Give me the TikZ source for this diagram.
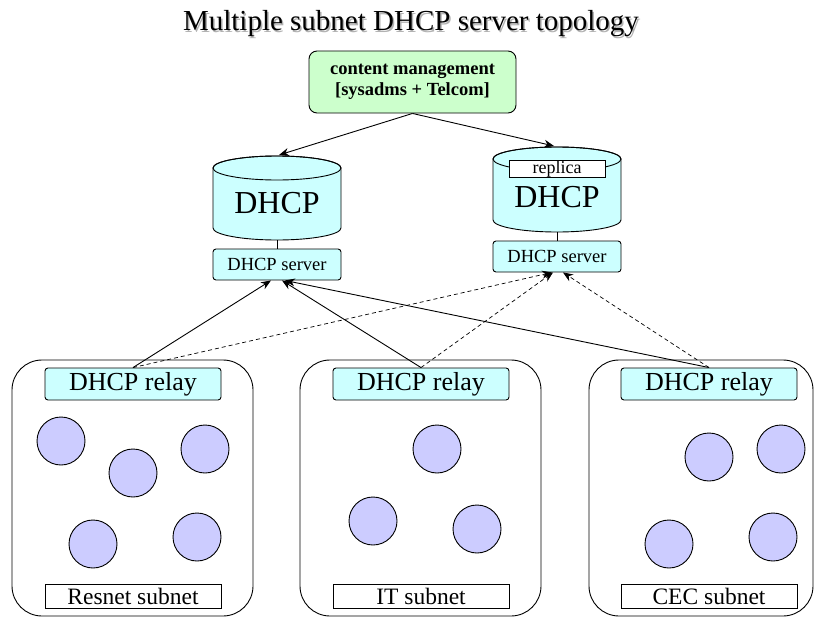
\documentclass[tikz,border=0pt]{standalone}
\usepackage{fontspec}
\setmainfont{Liberation Serif}
\usetikzlibrary{arrows.meta}

\definecolor{srvcyan}{HTML}{CCFFFF}
\definecolor{mgmtgreen}{HTML}{CCFFCC}
\definecolor{hostblue}{HTML}{CCCCFF}

\begin{document}
\begin{tikzpicture}[x=1pt,y=-1pt,
  every node/.style={inner sep=0pt},
  cyanbox/.style={draw,fill=srvcyan,rounded corners=3pt,line width=0.9pt},
  serverbox/.style={cyanbox,minimum width=128pt,minimum height=31pt,font=\fontsize{18.5}{20}\selectfont},
  relaybox/.style={cyanbox,minimum width=176pt,minimum height=32pt,font=\fontsize{26}{28}\selectfont},
  namebox/.style={draw,fill=white,line width=0.9pt,minimum width=176pt,minimum height=24pt,font=\fontsize{23.5}{25}\selectfont},
  subnetbox/.style={draw,rounded corners=30pt,line width=0.9pt,minimum width=241pt,minimum height=256pt},
  host/.style={circle,draw,fill=hostblue,line width=0.9pt,minimum size=48pt},
  dbtext/.style={font=\fontsize{32}{32}\selectfont},
  link/.style={-{Stealth[length=10pt,width=8pt]},line width=0.9pt},
  backup/.style={link,line width=0.7pt,dash pattern=on 4pt off 3pt}]

\useasboundingbox (0,0) rectangle (819,618);

% title
\node[anchor=base,text=black!30] (titleshadow) at (412.5,32.5) {\fontsize{29}{30}\selectfont Multiple subnet DHCP server topology};
\node[anchor=base] (title) at (411,31) {\fontsize{29}{30}\selectfont Multiple subnet DHCP server topology};

% content management
\node[draw,fill=mgmtgreen,rounded corners=8pt,line width=0.9pt,minimum width=207pt,minimum height=62pt,
  align=center,font=\bfseries\fontsize{18.5}{21}\selectfont] (mgmt) at (412.5,82)
  {content management\\{[}sysadms + Telcom{]}};

% primary database
\coordinate (dbAtop) at (279,155);
\coordinate (dbAbot) at (277,240);
\filldraw[fill=srvcyan,line width=0.9pt] (213,168) -- (213,228)
  arc[start angle=180,end angle=360,x radius=64pt,y radius=12pt] -- (341,168)
  arc[start angle=0,end angle=180,x radius=64pt,y radius=12pt] -- cycle;
\draw[line width=0.9pt] (277,168) ellipse[x radius=64pt,y radius=12pt];
\node[dbtext] (dbA) at (277,203.5) {DHCP};

% replica database
\coordinate (dbBtop) at (554,146);
\coordinate (dbBbot) at (557,232);
\filldraw[fill=srvcyan,line width=0.9pt] (493,159) -- (493,220)
  arc[start angle=180,end angle=360,x radius=64pt,y radius=12pt] -- (621,159)
  arc[start angle=0,end angle=180,x radius=64pt,y radius=12pt] -- cycle;
\draw[line width=0.9pt] (557,159) ellipse[x radius=64pt,y radius=12pt];
\node[draw,fill=white,line width=0.9pt,minimum width=96pt,minimum height=16pt,
  font=\fontsize{18}{18}\selectfont] (replica) at (557,169) {replica};
\node[dbtext] (dbB) at (557,197) {DHCP};

% servers
\node[serverbox] (srvA) at (277,264.5) {DHCP server};
\node[serverbox] (srvB) at (557,256.5) {DHCP server};
\draw[line width=0.9pt] (dbAbot) -- (srvA.north);
\draw[line width=0.9pt] (dbBbot) -- (srvB.north);

\draw[link] (mgmt.south) -- (dbAtop);
\draw[link] (mgmt.south) -- (dbBtop);

% subnets
\node[subnetbox] (netA) at (132.5,488) {};
\node[subnetbox] (netB) at (420.5,488) {};
\node[subnetbox,minimum width=224pt] (netC) at (701,488) {};

\node[relaybox] (relayA) at (133,384) {DHCP relay};
\node[relaybox] (relayB) at (421,384) {DHCP relay};
\node[relaybox] (relayC) at (709,384) {DHCP relay};

\node[namebox] (nameA) at (133,596) {Resnet subnet};
\node[namebox] (nameB) at (421,596) {IT subnet};
\node[namebox] (nameC) at (709,596) {CEC subnet};

\foreach \x/\y [count=\i] in {61/441,133/473,205/449,93/544,197/537}
  \node[host] (hostA\i) at (\x,\y) {};
\foreach \x/\y [count=\i] in {437/449,373/521,477/529}
  \node[host] (hostB\i) at (\x,\y) {};
\foreach \x/\y [count=\i] in {709/457,781/449,669/544,773/537}
  \node[host] (hostC\i) at (\x,\y) {};

% relay to server
\draw[link] (relayA.north) -- ([xshift=-6pt]srvA.south);
\draw[link] (relayB.north) -- ([xshift=5pt]srvA.south);
\draw[link] (relayC.north) -- ([xshift=8pt]srvA.south);
\draw[backup] (relayA.north) -- ([xshift=-5pt]srvB.south);
\draw[backup] (relayB.north) -- ([xshift=-4pt]srvB.south);
\draw[backup] (relayC.north) -- ([xshift=6pt]srvB.south);

\end{tikzpicture}
\end{document}
